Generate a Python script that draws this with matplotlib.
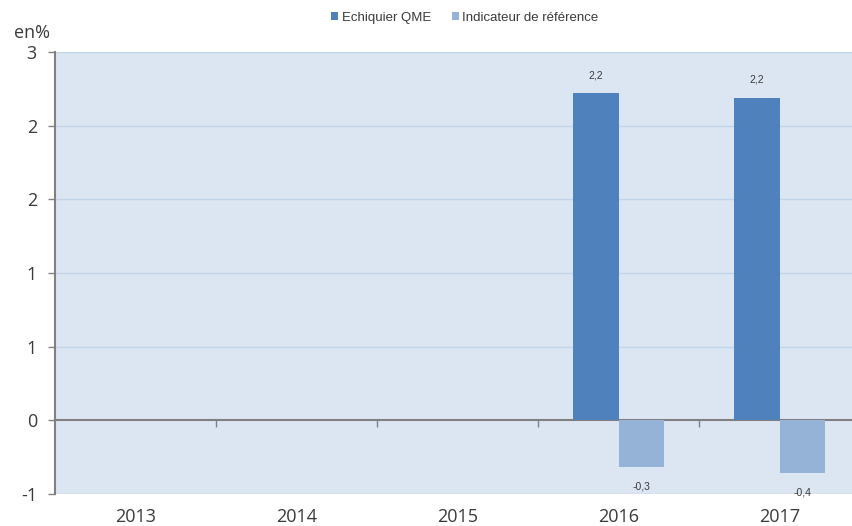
import matplotlib
matplotlib.use("Agg")
import matplotlib.pyplot as plt
import numpy as np

categories = ["2013", "2014", "2015", "2016", "2017"]
echiquier = [np.nan, np.nan, np.nan, 2.22, 2.19]
indicateur = [np.nan, np.nan, np.nan, -0.32, -0.36]
labels_echiquier = ["", "", "", "2,2", "2,2"]
labels_indicateur = ["", "", "", "-0,3", "-0,4"]
yticks = [-0.5, 0, 0.5, 1, 1.5, 2, 2.5]
yticklabels = ["-1", "0", "1", "1", "2", "2", "3"]
series_names = ["Echiquier QME", "Indicateur de référence"]

c_dark = "#4f81bd"
c_light = "#95b3d7"
bg = "#dce6f2"
grid_c = "#c3d4ea"
axis_c = "#808080"
text_c = "#3a3a3a"

fig = plt.figure(figsize=(8.53, 5.26), dpi=100)
ax = fig.add_axes([55/853, 32/526, 1 - 55/853, (494-52)/526])
ax.set_facecolor(bg)

x = np.arange(len(categories))
w = 0.285
b1 = ax.bar(x - w/2, echiquier, w, color=c_dark, label=series_names[0], zorder=3)
b2 = ax.bar(x + w/2, indicateur, w, color=c_light, label=series_names[1], zorder=3)

for xi, v, lab in zip(x, echiquier, labels_echiquier):
    if lab:
        ax.annotate(lab, (xi - w/2, v), xytext=(0, 13), textcoords="offset points",
                    ha="center", va="center", fontsize=7.5, color=text_c,
                    family="Liberation Sans")
for xi, v, lab in zip(x, indicateur, labels_indicateur):
    if lab:
        ax.annotate(lab, (xi + w/2, v), xytext=(0, -13.5), textcoords="offset points",
                    ha="center", va="center", fontsize=7.5, color=text_c,
                    family="Liberation Sans")

ax.set_ylim(-0.5, 2.5)
ax.set_xlim(-0.5, (853 - 55) / 161 - 0.5)
ax.set_yticks(yticks)
ax.set_yticklabels(yticklabels, family="Open Sans", fontsize=13, color=text_c)
ax.tick_params(axis="y", length=5, width=1, color=axis_c, direction="out", pad=8)
for t in yticks:
    if t != 0:
        ax.axhline(t, color=grid_c, lw=1, zorder=1)

ax.set_xticks(x)
ax.set_xticklabels(categories, family="Open Sans", fontsize=13, color=text_c)
ax.tick_params(axis="x", length=0, pad=10)

for s in ["top", "right", "bottom"]:
    ax.spines[s].set_visible(False)
ax.spines["left"].set_color(axis_c)
ax.spines["left"].set_linewidth(1.5)

# zero axis with category tick marks
zero_frac = (0 - (-0.5)) / 3.0
sec = ax.secondary_xaxis(zero_frac)
sec.set_xticks(np.arange(len(categories) - 1) + 0.5)
sec.set_xticklabels([])
sec.tick_params(length=5, width=1, color=axis_c, direction="out")
sec.spines["bottom"].set_color(axis_c)
sec.spines["bottom"].set_linewidth(1.5)
for s in ["top", "left", "right"]:
    if s in sec.spines:
        sec.spines[s].set_visible(False)

fig.text(14/853, 1 - 33/526, "en%", family="Open Sans", fontsize=13, color=text_c,
         ha="left", va="center")

leg = fig.legend(handles=[b1, b2], loc="center", bbox_to_anchor=(0.545, 1 - 18/526),
                 ncol=2, frameon=False, prop={"family": "Liberation Sans", "size": 9.5},
                 handlelength=0.55, handleheight=0.55, handletextpad=0.25, columnspacing=1.6,
                 labelcolor=text_c)

fig.savefig("out.png", dpi=100)
